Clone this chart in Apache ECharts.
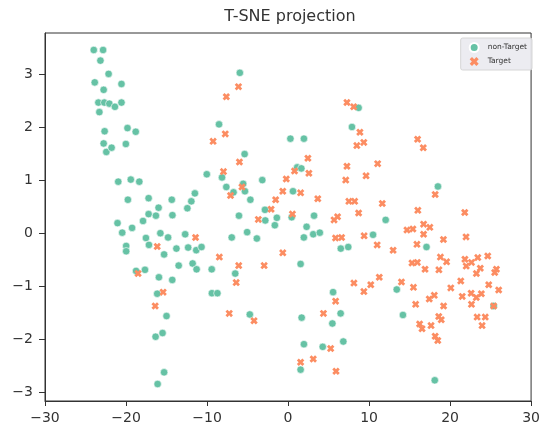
<!DOCTYPE html>
<html>
<head>
<meta charset="utf-8">
<script src="https://cdn.jsdelivr.net/npm/echarts@6/dist/echarts.min.js"></script>
<style>
  html, body { margin: 0; padding: 0; background: #fff; }
  #chart { width: 543px; height: 429px; }
</style>
</head>
<body>
<div id="chart"></div>
<script>
// t-SNE coordinates, [x, y]
var nonTargetPoints = [
  [-23.98,3.45],[-22.83,3.45],[-23.16,3.25],[-22.15,3.00],[-23.86,2.84],[-22.76,2.70],[-20.56,2.81],
  [-23.41,2.46],[-22.68,2.46],[-22.06,2.44],[-21.37,2.38],[-20.56,2.46],[-23.29,2.28],[-22.64,1.92],
  [-19.82,1.98],[-18.80,1.91],[-22.76,1.69],[-20.02,1.68],[-22.43,1.53],[-21.78,1.61],[-20.96,0.97],
  [-19.41,1.01],[-18.36,0.97],[-19.77,0.63],[-17.21,0.66],[-14.35,0.63],[-11.94,0.60],[-11.50,0.75],
  [-12.43,0.47],[-15.98,0.48],[-17.21,0.36],[-16.31,0.33],[-14.27,0.34],[-17.90,0.23],[-21.05,0.19],
  [-10.03,1.11],[-20.47,0.01],[-19.25,0.10],[-15.76,0.00],[-14.81,-0.08],[-12.70,-0.02],[-17.54,-0.09],
  [-17.17,-0.22],[-19.98,-0.24],[-19.98,-0.34],[-15.30,-0.40],[-13.78,-0.29],[-12.33,-0.27],[-11.33,-0.32],
  [-10.68,-0.26],[-13.50,-0.61],[-11.78,-0.57],[-11.29,-0.68],[-9.42,-0.68],[-18.76,-0.71],[-17.66,-0.69],
  [-15.94,-0.83],[-14.29,-0.88],[-16.15,-1.14],[-15.00,-1.56],[-15.49,-1.88],[-16.35,-1.95],[-15.30,-2.62],
  [-16.10,-2.84],[-5.95,3.02],[-8.52,2.05],[-5.36,1.49],[0.29,1.78],[1.96,1.78],[1.13,1.24],[1.64,1.22],
  [-8.15,1.05],[-3.18,1.00],[-7.62,0.87],[-6.73,0.77],[-5.54,0.93],[-5.32,0.79],[-4.65,0.63],[0.61,0.79],
  [-2.85,0.44],[-6.06,0.33],[-2.81,0.24],[-1.38,0.29],[-1.63,0.15],[0.45,0.30],[-5.05,0.02],[-6.95,-0.08],
  [-3.85,-0.10],[1.55,-0.58],[3.21,0.33],[2.29,0.12],[1.95,-0.08],[3.11,-0.02],[3.92,0.01],[6.51,-0.29],
  [7.43,-0.26],[10.49,-0.03],[8.71,2.36],[7.89,2.00],[12.05,0.25],[-6.52,-0.76],[-9.40,-1.13],[-8.72,-1.13],
  [-4.72,-1.53],[1.68,-1.59],[5.56,-1.11],[6.49,-1.51],[5.47,-1.70],[1.96,-2.09],[4.28,-2.14],[6.82,-2.04],
  [1.55,-2.57],[18.50,0.88],[17.09,-0.26],[13.42,-1.06],[14.18,-1.54],[18.11,-2.77],[25.38,-1.37]
];

var targetPoints = [
  [-11.42,-0.08],[-16.15,-0.25],[-18.51,-0.76],[-8.48,-0.45],[-15.42,-1.11],[-16.40,-1.37],[-7.75,1.87],
  [-9.25,1.73],[-6.00,1.34],[-7.97,1.16],[-6.12,2.76],[-7.62,2.57],[-5.69,0.87],[-7.10,0.71],[-0.65,0.79],
  [-0.22,1.02],[0.80,1.17],[-1.53,0.63],[-2.09,0.45],[-3.67,0.26],[0.54,0.36],[-6.09,-0.61],[-2.95,-0.61],
  [-0.65,-0.37],[2.45,1.41],[2.57,1.13],[1.55,0.76],[3.67,0.65],[7.27,2.46],[8.10,2.38],[8.87,1.90],
  [9.35,1.71],[8.49,1.65],[11.06,1.31],[7.27,1.26],[9.63,1.08],[7.12,1.00],[7.51,0.60],[8.22,0.60],
  [11.63,0.56],[8.71,0.38],[5.68,0.25],[6.11,0.31],[5.86,-0.09],[6.61,-0.08],[9.39,-0.05],[11.00,-0.22],
  [-6.40,-0.93],[-7.26,-1.51],[-4.20,-1.65],[8.13,-0.94],[9.36,-1.10],[5.87,-1.28],[4.37,-1.51],[5.26,-2.17],
  [3.11,-2.37],[1.55,-2.43],[5.92,-2.60],[15.99,1.77],[16.69,1.61],[18.16,0.73],[16.02,0.43],[21.81,0.39],
  [12.97,-0.32],[14.68,0.06],[15.41,0.08],[16.73,0.17],[17.50,0.11],[16.73,-0.02],[15.91,-0.21],[19.18,-0.12],
  [21.97,-0.07],[15.30,-0.56],[15.96,-0.55],[16.91,-0.68],[18.81,-0.45],[19.57,-0.54],[18.62,-0.69],[21.83,-0.49],
  [22.64,-0.55],[21.99,-0.62],[23.42,-0.46],[24.65,-0.43],[23.73,-0.66],[23.25,-0.76],[25.72,-0.68],[25.51,-0.74],
  [11.26,-0.83],[14.00,-0.92],[21.32,-0.90],[10.21,-0.97],[15.48,-1.02],[20.09,-1.03],[24.77,-0.97],[26.00,-1.07],
  [21.50,-1.19],[22.60,-1.13],[23.24,-1.21],[23.86,-1.14],[22.64,-1.34],[18.05,-1.17],[17.43,-1.24],[15.75,-1.34],
  [19.20,-1.37],[25.38,-1.37],[16.24,-1.71],[16.54,-1.80],[17.65,-1.74],[18.60,-1.57],[18.91,-1.63],[23.34,-1.58],
  [24.34,-1.58],[23.95,-1.74],[18.16,-1.94],[18.48,-2.02]
];

var seriesNames = ['non-Target', 'Target'];
var xTicks = [-30, -20, -10, 0, 10, 20, 30];
var yTicks = [-3, -2, -1, 0, 1, 2, 3];

var green = '#66c2a5';
var orange = '#fc8d62';
var ink = '#333333';
var font = 'DejaVu Sans';
// filled "X" like matplotlib's marker, thick arms
var xMarker = 'path://M0,2.6L2.6,0L5,2.4L7.4,0L10,2.6L7.6,5L10,7.4L7.4,10L5,7.6L2.6,10L0,7.4L2.4,5Z';

function minusSign(v) {
  return String(v).replace('-', '\u2212');
}

var chart = echarts.init(document.getElementById('chart'));

var option = {
  backgroundColor: '#ffffff',
  animation: false,
  title: {
    text: 'T-SNE projection',
    left: 290,
    textAlign: 'center',
    top: 9,
    padding: 0,
    textStyle: { fontFamily: font, fontSize: 16, fontWeight: 'normal', color: ink }
  },
  legend: {
    orient: 'vertical',
    right: 11,
    top: 38,
    padding: [4, 5, 4, 8],
    itemGap: 4,
    itemWidth: 9,
    itemHeight: 9,
    backgroundColor: 'rgba(234,234,240,0.9)',
    borderColor: '#d6d6d6',
    borderWidth: 1,
    borderRadius: 2,
    textStyle: { fontFamily: font, fontSize: 7.5, color: ink, padding: [0, 0, 0, 4] },
    data: [
      { name: seriesNames[0], icon: 'circle' },
      { name: seriesNames[1], icon: xMarker }
    ]
  },
  grid: {
    left: 45,
    right: 7,
    top: 33,
    bottom: 28,
    show: true,
    borderColor: ink,
    borderWidth: 1,
    backgroundColor: 'transparent'
  },
  xAxis: {
    type: 'value',
    min: xTicks[0],
    max: xTicks[xTicks.length - 1],
    interval: 10,
    splitLine: { show: false },
    axisLine: { show: true, onZero: false, lineStyle: { color: ink, width: 1 } },
    axisTick: { show: true, length: 5, lineStyle: { color: ink } },
    axisLabel: {
      margin: 10,
      fontFamily: font,
      fontSize: 14,
      color: ink,
      formatter: minusSign
    }
  },
  yAxis: {
    type: 'value',
    min: -3.16,
    max: 3.77,
    splitLine: { show: false },
    axisLine: { show: true, onZero: false, lineStyle: { color: ink, width: 1 } },
    axisTick: { show: true, length: 6, lineStyle: { color: ink }, customValues: yTicks },
    axisLabel: {
      margin: 12,
      fontFamily: font,
      fontSize: 14,
      color: ink,
      customValues: yTicks,
      formatter: minusSign
    }
  },
  series: [
    {
      name: seriesNames[0],
      type: 'scatter',
      symbol: 'circle',
      symbolSize: 7.5,
      itemStyle: { color: green, borderColor: '#ffffff', borderWidth: 0.6, opacity: 1 },
      data: nonTargetPoints
    },
    {
      name: seriesNames[1],
      type: 'scatter',
      symbol: xMarker,
      symbolSize: 7.5,
      itemStyle: { color: orange, borderWidth: 0, opacity: 1 },
      data: targetPoints
    }
  ]
};

chart.setOption(option);
</script>
</body>
</html>
